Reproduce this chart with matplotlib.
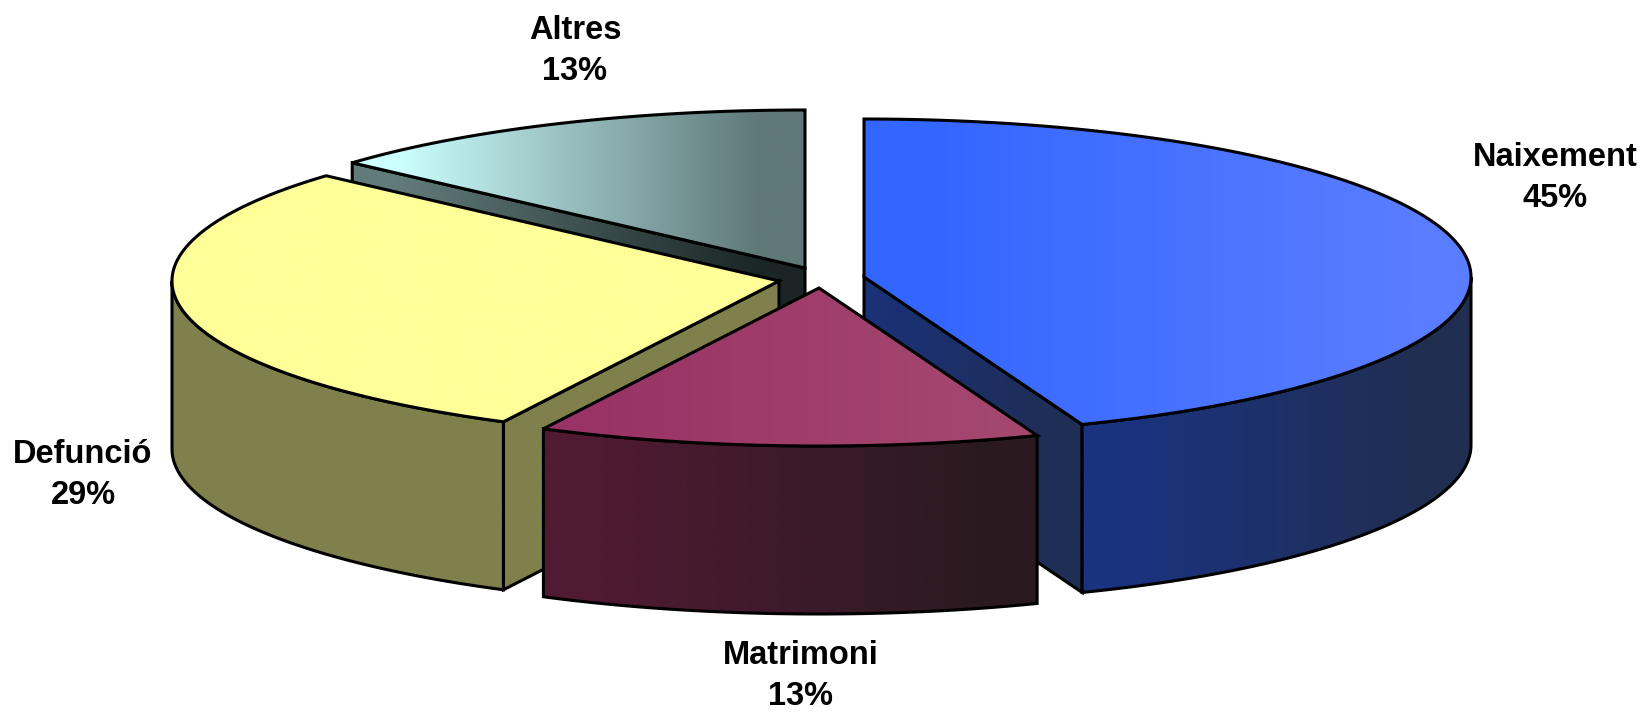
"""3D exploded pie chart, drawn as flat polygons in pixel coordinates."""
import matplotlib
matplotlib.use('Agg')
import matplotlib.pyplot as plt
from matplotlib.colors import to_rgb
from matplotlib.patches import Polygon
import numpy as np

# clockwise from 12 o'clock
names = ['Naixement', 'Matrimoni', 'Defunció', 'Altres']
shares = [44.15, 13.35, 29.1, 13.4]
pct_labels = ['45%', '13%', '29%', '13%']

top_colors = [('#3366FF', '#5A7DFF'), ('#993366', '#A4476F'), ('#FFFF99', '#FFFF99'), ('#CCFFFF', '#5F7878')]
rim_colors = [('#1A3380', '#202E50'), ('#501A33', '#2A1A20'), ('#80804D', '#80804D'), ('#617B7B', '#617B7B')]
wall_colors = [('#1A3175', '#1F2E55'), ('#501A33', '#2A1A20'), ('#80804D', '#80804D'), ('#617B7B', '#1B2626')]

apex = [(864, 277), (819, 288), (779, 281), (805, 268)]
label_pos = [(1555, 178), (801, 676), (83, 475), (575, 51)]
RX, RY, DEPTH = 607, 158, 168
LW = 2.2

plt.rcParams['font.family'] = ['Liberation Sans', 'DejaVu Sans']
fig = plt.figure(figsize=(16.48, 7.12), dpi=100)
ax = fig.add_axes([0, 0, 1, 1])
zo = [1]

def rim_xy(c, t):
    t = np.radians(t)
    return c[0] + RX*np.sin(t), c[1] - RY*np.cos(t)

def fill(xs, ys, cols):
    # horizontal gradient clipped to the polygon, then black outline
    pts = np.column_stack([xs, ys])
    zo[0] += 1
    c0, c1 = np.array(to_rgb(cols[0])), np.array(to_rgb(cols[1]))
    f = np.clip((np.linspace(0, 1, 256) - 0.1) / 0.8, 0, 1)[:, None]  # ends held flat
    grad = (c0 + (c1 - c0)*f)[None, :, :]
    clip = Polygon(pts, closed=True, transform=ax.transData, fc='none', ec='none')
    ax.add_patch(clip)
    im = ax.imshow(grad, extent=(min(xs), max(xs), max(ys), min(ys)), aspect='auto',
                   interpolation='bilinear', zorder=zo[0])
    im.set_clip_path(clip)
    ax.add_patch(Polygon(pts, closed=True, fc='none', ec='black', lw=LW, joinstyle='miter', zorder=zo[0]))

edges = np.cumsum([0] + shares) / sum(shares) * 360
for i in [3, 2, 0, 1]:  # back to front
    c, t0, t1 = apex[i], edges[i], edges[i+1]
    # radial walls facing the viewer
    for t, show in ((t0, np.sin(np.radians(t0)) < -1e-6), (t1, np.sin(np.radians(t1)) > 1e-6)):
        if show:
            x, y = rim_xy(c, t)
            fill([c[0], x, x, c[0]], [c[1], y, y+DEPTH, c[1]+DEPTH], wall_colors[i])
    # outer rim, front half only
    a, b = max(t0, 90), min(t1, 270)
    if a < b:
        x, y = rim_xy(c, np.linspace(a, b, 120))
        fill(np.r_[x, x[::-1]], np.r_[y, y[::-1]+DEPTH], rim_colors[i])
    # top face
    x, y = rim_xy(c, np.linspace(t0, t1, 240))
    fill(np.r_[c[0], x], np.r_[c[1], y], top_colors[i])

for name, pct, (x, y) in zip(names, pct_labels, label_pos):
    ax.text(x, y, f'{name}\n{pct}', ha='center', va='center', fontsize=23.5, fontweight='bold',
            linespacing=1.42, zorder=zo[0]+1)

ax.set_xlim(0, 1648); ax.set_ylim(712, 0); ax.axis('off')
plt.savefig('out.png', dpi=100)
